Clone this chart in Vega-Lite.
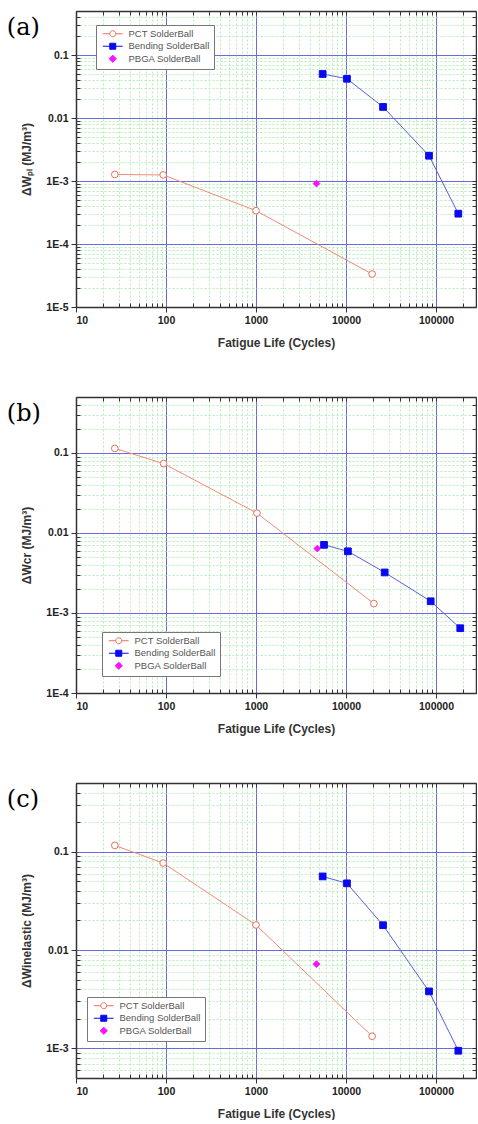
{
  "$schema": "https://vega.github.io/schema/vega-lite/v6.json",
  "background": "white",
  "padding": {"left": 6, "top": 10, "right": 0, "bottom": 0},
  "datasets": {
    "pts": [
      {"panel": "a", "series": "PCT SolderBall", "cycles": 27, "value": 0.00127},
      {"panel": "a", "series": "PCT SolderBall", "cycles": 93, "value": 0.00125},
      {"panel": "a", "series": "PCT SolderBall", "cycles": 1000, "value": 0.000338},
      {"panel": "a", "series": "PCT SolderBall", "cycles": 19500, "value": 0.0000334},
      {"panel": "a", "series": "Bending SolderBall", "cycles": 5500, "value": 0.05},
      {"panel": "a", "series": "Bending SolderBall", "cycles": 10250, "value": 0.042},
      {"panel": "a", "series": "Bending SolderBall", "cycles": 25800, "value": 0.015},
      {"panel": "a", "series": "Bending SolderBall", "cycles": 83600, "value": 0.00252},
      {"panel": "a", "series": "Bending SolderBall", "cycles": 177000, "value": 0.000303},
      {"panel": "a", "series": "PBGA SolderBall", "cycles": 4700, "value": 0.00091},
      {"panel": "b", "series": "PCT SolderBall", "cycles": 27, "value": 0.114},
      {"panel": "b", "series": "PCT SolderBall", "cycles": 94, "value": 0.0736},
      {"panel": "b", "series": "PCT SolderBall", "cycles": 1025, "value": 0.0177},
      {"panel": "b", "series": "PCT SolderBall", "cycles": 20400, "value": 0.00131},
      {"panel": "b", "series": "Bending SolderBall", "cycles": 5700, "value": 0.0071},
      {"panel": "b", "series": "Bending SolderBall", "cycles": 10500, "value": 0.0059},
      {"panel": "b", "series": "Bending SolderBall", "cycles": 26900, "value": 0.00321},
      {"panel": "b", "series": "Bending SolderBall", "cycles": 87300, "value": 0.0014},
      {"panel": "b", "series": "Bending SolderBall", "cycles": 186000, "value": 0.000645},
      {"panel": "b", "series": "PBGA SolderBall", "cycles": 4800, "value": 0.00638},
      {"panel": "c", "series": "PCT SolderBall", "cycles": 27, "value": 0.116},
      {"panel": "c", "series": "PCT SolderBall", "cycles": 93, "value": 0.0767},
      {"panel": "c", "series": "PCT SolderBall", "cycles": 1000, "value": 0.018},
      {"panel": "c", "series": "PCT SolderBall", "cycles": 19500, "value": 0.00133},
      {"panel": "c", "series": "Bending SolderBall", "cycles": 5500, "value": 0.0561},
      {"panel": "c", "series": "Bending SolderBall", "cycles": 10250, "value": 0.0477},
      {"panel": "c", "series": "Bending SolderBall", "cycles": 25800, "value": 0.0179},
      {"panel": "c", "series": "Bending SolderBall", "cycles": 83600, "value": 0.0038},
      {"panel": "c", "series": "Bending SolderBall", "cycles": 177000, "value": 0.000947},
      {"panel": "c", "series": "PBGA SolderBall", "cycles": 4700, "value": 0.0072}
    ]
  },
  "spacing": 47,
  "resolve": {"scale": {"fill": "independent", "stroke": "independent", "shape": "independent", "color": "independent"}},
  "vconcat": [
    {
      "width": 400, "height": 296,
      "title": {"text": "(a)", "anchor": "start", "frame": "bounds", "font": "DejaVu Serif", "fontSize": 24, "fontWeight": "normal", "color": "black", "offset": 0, "dx": -14, "dy": 29},
      "data": {"name": "pts"},
      "transform": [{"filter": "datum.panel === 'a'"}],
      "resolve": {"axis": {"x": "independent", "y": "independent"}},
      "layer": [
        {
          "mark": {"type": "point", "opacity": 0},
          "encoding": {
            "x": {"field": "cycles", "type": "quantitative", "scale": {"type": "log", "domain": [10, 278256], "nice": false},
              "axis": {"orient": "bottom", "values": [20,30,40,50,60,70,80,90,200,300,400,500,600,700,800,900,2000,3000,4000,5000,6000,7000,8000,9000,20000,30000,40000,50000,60000,70000,80000,90000,200000], "labels": false, "domain": false, "title": null, "grid": true, "gridColor": "#b8ecb8", "gridDash": [2, 2], "gridWidth": 1, "ticks": true, "tickSize": -4}},
            "y": {"field": "value", "type": "quantitative", "scale": {"type": "log", "domain": [0.00001, 0.5], "nice": false},
              "axis": {"orient": "left", "values": [0.00002,0.00003,0.00004,0.00005,0.00006,0.00007,0.00008,0.00009,0.0002,0.0003,0.0004,0.0005,0.0006,0.0007,0.0008,0.0009,0.002,0.003,0.004,0.005,0.006,0.007,0.008,0.009,0.02,0.03,0.04,0.05,0.06,0.07,0.08,0.09,0.2,0.3,0.4,0.5], "labels": false, "domain": false, "title": null, "grid": true, "gridColor": "#b8ecb8", "gridDash": [2, 2], "gridWidth": 1, "ticks": true, "tickSize": -4}}
          }
        },
        {
          "transform": [{"filter": "datum.series !== 'PBGA SolderBall'"}],
          "mark": {"type": "line", "strokeWidth": 1},
          "encoding": {
            "x": {"field": "cycles", "type": "quantitative",
              "axis": {"orient": "bottom", "values": [10, 100, 1000, 10000, 100000], "format": "d", "title": "Fatigue Life (Cycles)", "grid": true, "gridColor": "#6a6ae0", "gridWidth": 1, "tickSize": 5}},
            "y": {"field": "value", "type": "quantitative",
              "axis": {"orient": "left", "values": [0.00001, 0.0001, 0.001, 0.01, 0.1], "labelExpr": "datum.value >= 0.01 ? format(datum.value, '') : '1E-' + round(-log(datum.value) / LN10)", "title": "ΔWₚₗ (MJ/m³)", "grid": true, "gridColor": "#6a6ae0", "gridWidth": 1, "tickSize": 5}},
            "color": {"field": "series", "type": "nominal", "legend": null, "scale": {"domain": ["PCT SolderBall", "Bending SolderBall"], "range": ["#f08a7a", "#5c5cdc"]}},
            "order": {"field": "cycles", "type": "quantitative"}
          }
        },
        {
          "mark": {"type": "point", "filled": true, "opacity": 1, "size": 45, "strokeWidth": 1},
          "encoding": {
            "x": {"field": "cycles", "type": "quantitative",
              "axis": {"orient": "top", "values": [10,20,30,40,50,60,70,80,90,100,200,300,400,500,600,700,800,900,1000,2000,3000,4000,5000,6000,7000,8000,9000,10000,20000,30000,40000,50000,60000,70000,80000,90000,100000,200000], "labels": false, "title": null, "grid": false, "tickSize": -4}},
            "y": {"field": "value", "type": "quantitative",
              "axis": {"orient": "right", "values": [0.00001,0.00002,0.00003,0.00004,0.00005,0.00006,0.00007,0.00008,0.00009,0.0001,0.0002,0.0003,0.0004,0.0005,0.0006,0.0007,0.0008,0.0009,0.001,0.002,0.003,0.004,0.005,0.006,0.007,0.008,0.009,0.01,0.02,0.03,0.04,0.05,0.06,0.07,0.08,0.09,0.1,0.2,0.3,0.4,0.5], "labels": false, "title": null, "grid": false, "tickSize": -4}},
            "shape": {"field": "series", "type": "nominal", "legend": null, "scale": {"domain": ["Bending SolderBall", "PBGA SolderBall", "PCT SolderBall"], "range": ["square", "diamond", "circle"]}},
            "fill": {"field": "series", "type": "nominal", "scale": {"domain": ["PCT SolderBall", "Bending SolderBall", "PBGA SolderBall"], "range": ["#ffffff", "#0a0af0", "#ff10ff"]},
              "legend": {"orient": "none", "legendX": 20, "legendY": 14, "symbolType": {"expr": "datum.value === 'PCT SolderBall' ? 'M-3.3,0H-1M1,0H3.3M-1,0A1,1 0 1,0 1,0A1,1 0 1,0 -1,0Z' : datum.value === 'Bending SolderBall' ? 'M-3.3,0H3.3M-1,-1H1V1H-1Z' : 'M0,-1.2L1.2,0L0,1.2L-1.2,0Z'"}, "encode": {"symbols": {"shape": {"condition": [{"test": "datum.value === 'PCT SolderBall'", "value": "M-3.3,0H-1M1,0H3.3M-1,0A1,1 0 1,0 1,0A1,1 0 1,0 -1,0Z"}, {"test": "datum.value === 'Bending SolderBall'", "value": "M-3.3,0H3.3M-1,-1H1V1H-1Z"}], "value": "M0,-1.2L1.2,0L0,1.2L-1.2,0Z"}}}}},
            "stroke": {"field": "series", "type": "nominal", "scale": {"domain": ["PCT SolderBall", "Bending SolderBall", "PBGA SolderBall"], "range": ["#ea6f5e", "#0a0af0", "#ff10ff"]},
              "legend": {"orient": "none", "legendX": 20, "legendY": 14, "symbolType": {"expr": "datum.value === 'PCT SolderBall' ? 'M-3.3,0H-1M1,0H3.3M-1,0A1,1 0 1,0 1,0A1,1 0 1,0 -1,0Z' : datum.value === 'Bending SolderBall' ? 'M-3.3,0H3.3M-1,-1H1V1H-1Z' : 'M0,-1.2L1.2,0L0,1.2L-1.2,0Z'"}, "encode": {"symbols": {"shape": {"condition": [{"test": "datum.value === 'PCT SolderBall'", "value": "M-3.3,0H-1M1,0H3.3M-1,0A1,1 0 1,0 1,0A1,1 0 1,0 -1,0Z"}, {"test": "datum.value === 'Bending SolderBall'", "value": "M-3.3,0H3.3M-1,-1H1V1H-1Z"}], "value": "M0,-1.2L1.2,0L0,1.2L-1.2,0Z"}}}}}
          }
        }
      ]
    },
    {
      "width": 400, "height": 296,
      "title": {"text": "(b)", "anchor": "start", "frame": "bounds", "font": "DejaVu Serif", "fontSize": 24, "fontWeight": "normal", "color": "black", "offset": 0, "dx": -14, "dy": 29},
      "data": {"name": "pts"},
      "transform": [{"filter": "datum.panel === 'b'"}],
      "resolve": {"axis": {"x": "independent", "y": "independent"}},
      "layer": [
        {
          "mark": {"type": "point", "opacity": 0},
          "encoding": {
            "x": {"field": "cycles", "type": "quantitative", "scale": {"type": "log", "domain": [10, 278256], "nice": false},
              "axis": {"orient": "bottom", "values": [20,30,40,50,60,70,80,90,200,300,400,500,600,700,800,900,2000,3000,4000,5000,6000,7000,8000,9000,20000,30000,40000,50000,60000,70000,80000,90000,200000], "labels": false, "domain": false, "title": null, "grid": true, "gridColor": "#b8ecb8", "gridDash": [2, 2], "gridWidth": 1, "ticks": true, "tickSize": -4}},
            "y": {"field": "value", "type": "quantitative", "scale": {"type": "log", "domain": [0.0001, 0.5], "nice": false},
              "axis": {"orient": "left", "values": [0.0002,0.0003,0.0004,0.0005,0.0006,0.0007,0.0008,0.0009,0.002,0.003,0.004,0.005,0.006,0.007,0.008,0.009,0.02,0.03,0.04,0.05,0.06,0.07,0.08,0.09,0.2,0.3,0.4,0.5], "labels": false, "domain": false, "title": null, "grid": true, "gridColor": "#b8ecb8", "gridDash": [2, 2], "gridWidth": 1, "ticks": true, "tickSize": -4}}
          }
        },
        {
          "transform": [{"filter": "datum.series !== 'PBGA SolderBall'"}],
          "mark": {"type": "line", "strokeWidth": 1},
          "encoding": {
            "x": {"field": "cycles", "type": "quantitative",
              "axis": {"orient": "bottom", "values": [10, 100, 1000, 10000, 100000], "format": "d", "title": "Fatigue Life (Cycles)", "grid": true, "gridColor": "#6a6ae0", "gridWidth": 1, "tickSize": 5}},
            "y": {"field": "value", "type": "quantitative",
              "axis": {"orient": "left", "values": [0.0001, 0.001, 0.01, 0.1], "labelExpr": "datum.value >= 0.01 ? format(datum.value, '') : '1E-' + round(-log(datum.value) / LN10)", "title": "ΔWcr (MJ/m³)", "grid": true, "gridColor": "#6a6ae0", "gridWidth": 1, "tickSize": 5}},
            "color": {"field": "series", "type": "nominal", "legend": null, "scale": {"domain": ["PCT SolderBall", "Bending SolderBall"], "range": ["#f08a7a", "#5c5cdc"]}},
            "order": {"field": "cycles", "type": "quantitative"}
          }
        },
        {
          "mark": {"type": "point", "filled": true, "opacity": 1, "size": 45, "strokeWidth": 1},
          "encoding": {
            "x": {"field": "cycles", "type": "quantitative",
              "axis": {"orient": "top", "values": [10,20,30,40,50,60,70,80,90,100,200,300,400,500,600,700,800,900,1000,2000,3000,4000,5000,6000,7000,8000,9000,10000,20000,30000,40000,50000,60000,70000,80000,90000,100000,200000], "labels": false, "title": null, "grid": false, "tickSize": -4}},
            "y": {"field": "value", "type": "quantitative",
              "axis": {"orient": "right", "values": [0.0001,0.0002,0.0003,0.0004,0.0005,0.0006,0.0007,0.0008,0.0009,0.001,0.002,0.003,0.004,0.005,0.006,0.007,0.008,0.009,0.01,0.02,0.03,0.04,0.05,0.06,0.07,0.08,0.09,0.1,0.2,0.3,0.4,0.5], "labels": false, "title": null, "grid": false, "tickSize": -4}},
            "shape": {"field": "series", "type": "nominal", "legend": null, "scale": {"domain": ["Bending SolderBall", "PBGA SolderBall", "PCT SolderBall"], "range": ["square", "diamond", "circle"]}},
            "fill": {"field": "series", "type": "nominal", "scale": {"domain": ["PCT SolderBall", "Bending SolderBall", "PBGA SolderBall"], "range": ["#ffffff", "#0a0af0", "#ff10ff"]},
              "legend": {"orient": "none", "legendX": 26, "legendY": 235, "symbolType": {"expr": "datum.value === 'PCT SolderBall' ? 'M-3.3,0H-1M1,0H3.3M-1,0A1,1 0 1,0 1,0A1,1 0 1,0 -1,0Z' : datum.value === 'Bending SolderBall' ? 'M-3.3,0H3.3M-1,-1H1V1H-1Z' : 'M0,-1.2L1.2,0L0,1.2L-1.2,0Z'"}, "encode": {"symbols": {"shape": {"condition": [{"test": "datum.value === 'PCT SolderBall'", "value": "M-3.3,0H-1M1,0H3.3M-1,0A1,1 0 1,0 1,0A1,1 0 1,0 -1,0Z"}, {"test": "datum.value === 'Bending SolderBall'", "value": "M-3.3,0H3.3M-1,-1H1V1H-1Z"}], "value": "M0,-1.2L1.2,0L0,1.2L-1.2,0Z"}}}}},
            "stroke": {"field": "series", "type": "nominal", "scale": {"domain": ["PCT SolderBall", "Bending SolderBall", "PBGA SolderBall"], "range": ["#ea6f5e", "#0a0af0", "#ff10ff"]},
              "legend": {"orient": "none", "legendX": 26, "legendY": 235, "symbolType": {"expr": "datum.value === 'PCT SolderBall' ? 'M-3.3,0H-1M1,0H3.3M-1,0A1,1 0 1,0 1,0A1,1 0 1,0 -1,0Z' : datum.value === 'Bending SolderBall' ? 'M-3.3,0H3.3M-1,-1H1V1H-1Z' : 'M0,-1.2L1.2,0L0,1.2L-1.2,0Z'"}, "encode": {"symbols": {"shape": {"condition": [{"test": "datum.value === 'PCT SolderBall'", "value": "M-3.3,0H-1M1,0H3.3M-1,0A1,1 0 1,0 1,0A1,1 0 1,0 -1,0Z"}, {"test": "datum.value === 'Bending SolderBall'", "value": "M-3.3,0H3.3M-1,-1H1V1H-1Z"}], "value": "M0,-1.2L1.2,0L0,1.2L-1.2,0Z"}}}}}
          }
        }
      ]
    },
    {
      "width": 400, "height": 295,
      "title": {"text": "(c)", "anchor": "start", "frame": "bounds", "font": "DejaVu Serif", "fontSize": 24, "fontWeight": "normal", "color": "black", "offset": 0, "dx": -14, "dy": 29},
      "data": {"name": "pts"},
      "transform": [{"filter": "datum.panel === 'c'"}],
      "resolve": {"axis": {"x": "independent", "y": "independent"}},
      "layer": [
        {
          "mark": {"type": "point", "opacity": 0},
          "encoding": {
            "x": {"field": "cycles", "type": "quantitative", "scale": {"type": "log", "domain": [10, 278256], "nice": false},
              "axis": {"orient": "bottom", "values": [20,30,40,50,60,70,80,90,200,300,400,500,600,700,800,900,2000,3000,4000,5000,6000,7000,8000,9000,20000,30000,40000,50000,60000,70000,80000,90000,200000], "labels": false, "domain": false, "title": null, "grid": true, "gridColor": "#b8ecb8", "gridDash": [2, 2], "gridWidth": 1, "ticks": true, "tickSize": -4}},
            "y": {"field": "value", "type": "quantitative", "scale": {"type": "log", "domain": [0.0005, 0.5], "nice": false},
              "axis": {"orient": "left", "values": [0.0006,0.0007,0.0008,0.0009,0.002,0.003,0.004,0.005,0.006,0.007,0.008,0.009,0.02,0.03,0.04,0.05,0.06,0.07,0.08,0.09,0.2,0.3,0.4,0.5], "labels": false, "domain": false, "title": null, "grid": true, "gridColor": "#b8ecb8", "gridDash": [2, 2], "gridWidth": 1, "ticks": true, "tickSize": -4}}
          }
        },
        {
          "transform": [{"filter": "datum.series !== 'PBGA SolderBall'"}],
          "mark": {"type": "line", "strokeWidth": 1},
          "encoding": {
            "x": {"field": "cycles", "type": "quantitative",
              "axis": {"orient": "bottom", "values": [10, 100, 1000, 10000, 100000], "format": "d", "title": "Fatigue Life (Cycles)", "grid": true, "gridColor": "#6a6ae0", "gridWidth": 1, "tickSize": 5}},
            "y": {"field": "value", "type": "quantitative",
              "axis": {"orient": "left", "values": [0.001, 0.01, 0.1], "labelExpr": "datum.value >= 0.01 ? format(datum.value, '') : '1E-' + round(-log(datum.value) / LN10)", "title": "ΔWinelastic (MJ/m³)", "grid": true, "gridColor": "#6a6ae0", "gridWidth": 1, "tickSize": 5}},
            "color": {"field": "series", "type": "nominal", "legend": null, "scale": {"domain": ["PCT SolderBall", "Bending SolderBall"], "range": ["#f08a7a", "#5c5cdc"]}},
            "order": {"field": "cycles", "type": "quantitative"}
          }
        },
        {
          "mark": {"type": "point", "filled": true, "opacity": 1, "size": 45, "strokeWidth": 1},
          "encoding": {
            "x": {"field": "cycles", "type": "quantitative",
              "axis": {"orient": "top", "values": [10,20,30,40,50,60,70,80,90,100,200,300,400,500,600,700,800,900,1000,2000,3000,4000,5000,6000,7000,8000,9000,10000,20000,30000,40000,50000,60000,70000,80000,90000,100000,200000], "labels": false, "title": null, "grid": false, "tickSize": -4}},
            "y": {"field": "value", "type": "quantitative",
              "axis": {"orient": "right", "values": [0.0005,0.0006,0.0007,0.0008,0.0009,0.001,0.002,0.003,0.004,0.005,0.006,0.007,0.008,0.009,0.01,0.02,0.03,0.04,0.05,0.06,0.07,0.08,0.09,0.1,0.2,0.3,0.4,0.5], "labels": false, "title": null, "grid": false, "tickSize": -4}},
            "shape": {"field": "series", "type": "nominal", "legend": null, "scale": {"domain": ["Bending SolderBall", "PBGA SolderBall", "PCT SolderBall"], "range": ["square", "diamond", "circle"]}},
            "fill": {"field": "series", "type": "nominal", "scale": {"domain": ["PCT SolderBall", "Bending SolderBall", "PBGA SolderBall"], "range": ["#ffffff", "#0a0af0", "#ff10ff"]},
              "legend": {"orient": "none", "legendX": 11, "legendY": 214, "symbolType": {"expr": "datum.value === 'PCT SolderBall' ? 'M-3.3,0H-1M1,0H3.3M-1,0A1,1 0 1,0 1,0A1,1 0 1,0 -1,0Z' : datum.value === 'Bending SolderBall' ? 'M-3.3,0H3.3M-1,-1H1V1H-1Z' : 'M0,-1.2L1.2,0L0,1.2L-1.2,0Z'"}, "encode": {"symbols": {"shape": {"condition": [{"test": "datum.value === 'PCT SolderBall'", "value": "M-3.3,0H-1M1,0H3.3M-1,0A1,1 0 1,0 1,0A1,1 0 1,0 -1,0Z"}, {"test": "datum.value === 'Bending SolderBall'", "value": "M-3.3,0H3.3M-1,-1H1V1H-1Z"}], "value": "M0,-1.2L1.2,0L0,1.2L-1.2,0Z"}}}}},
            "stroke": {"field": "series", "type": "nominal", "scale": {"domain": ["PCT SolderBall", "Bending SolderBall", "PBGA SolderBall"], "range": ["#ea6f5e", "#0a0af0", "#ff10ff"]},
              "legend": {"orient": "none", "legendX": 11, "legendY": 214, "symbolType": {"expr": "datum.value === 'PCT SolderBall' ? 'M-3.3,0H-1M1,0H3.3M-1,0A1,1 0 1,0 1,0A1,1 0 1,0 -1,0Z' : datum.value === 'Bending SolderBall' ? 'M-3.3,0H3.3M-1,-1H1V1H-1Z' : 'M0,-1.2L1.2,0L0,1.2L-1.2,0Z'"}, "encode": {"symbols": {"shape": {"condition": [{"test": "datum.value === 'PCT SolderBall'", "value": "M-3.3,0H-1M1,0H3.3M-1,0A1,1 0 1,0 1,0A1,1 0 1,0 -1,0Z"}, {"test": "datum.value === 'Bending SolderBall'", "value": "M-3.3,0H3.3M-1,-1H1V1H-1Z"}], "value": "M0,-1.2L1.2,0L0,1.2L-1.2,0Z"}}}}}
          }
        }
      ]
    }
  ],
  "config": {
    "view": {"stroke": null},
    "font": "Liberation Sans",
    "axis": {"domainColor": "#333", "domainWidth": 1.5, "tickColor": "#333", "tickWidth": 1, "labelFont": "Liberation Sans", "labelFontWeight": "bold", "labelFontSize": 10.5, "labelColor": "#222", "labelPadding": 3, "titleFont": "Liberation Sans", "titleFontWeight": "bold", "titleFontSize": 12, "titleColor": "#333", "titlePadding": 12},
    "legend": {"title": null, "padding": 4, "strokeColor": "#777", "fillColor": "white", "labelFont": "Liberation Sans", "labelFontSize": 9.5, "labelColor": "#555", "symbolSize": 36, "symbolStrokeWidth": 1, "rowPadding": 1.5, "symbolOffset": 8, "labelOffset": 11, "cornerRadius": 0}
  }
}
